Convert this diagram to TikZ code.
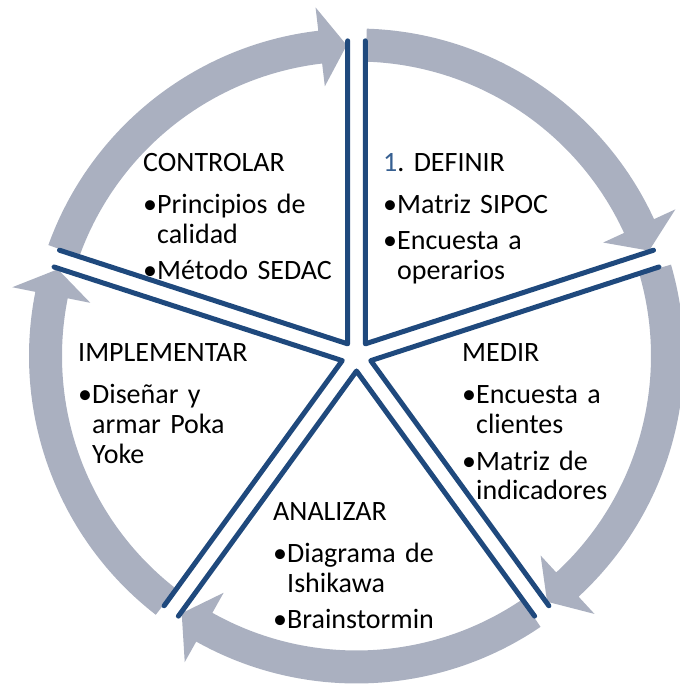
\documentclass[tikz,border=0pt]{standalone}
\usepackage{fontspec}
\setmainfont{Carlito}
\definecolor{ringgrey}{RGB}{170,176,192}
\definecolor{wedgeblue}{RGB}{31,73,125}
\definecolor{numblue}{RGB}{54,95,145}
\usetikzlibrary{calc}

\newcommand{\bul}{\makebox[14pt][l]{•}}
\newcommand{\ind}{\hspace*{14pt}}
\newcommand{\phasefont}{\fontsize{28}{30}\selectfont\frenchspacing
  \spaceskip=0.19em plus 0.05em\relax}

\begin{document}
\begin{tikzpicture}[x=1pt, y=1pt,
    phase/.style={anchor=base west, inner sep=0pt, text width=260pt, align=left,
      font=\phasefont}]
    \useasboundingbox (-356.5,-331) rectangle (322.5,356);
    % grey ring of arrows
    \foreach \s in {90,18,-54,-126,-198} {
      \fill[ringgrey] ({\s-1.8}:327.5) arc[start angle=\s-1.8, end angle=\s-65.3, radius=327.5]
        -- ({\s-65.3}:351) -- ({\s-70.2}:311) -- ({\s-65.3}:271.5) -- ({\s-65.3}:294.5)
        arc[start angle=\s-65.3, end angle=\s-1.8, radius=294.5] -- cycle;
    }
    % wedge edges
    \foreach \b in {126,54,-18,-90,-162} {
      \draw[wedgeblue, line width=5pt, line join=round, line cap=round]
        ($(\b:15)+({\b+36}:303)$) -- (\b:15) -- ($(\b:15)+({\b-36}:303)$);
    }
    \node[phase] (controlar) at (-213.5,184) {CONTROLAR\\[12pt]
      \bul Principios de\\ \ind calidad\\[6pt] \bul Método SEDAC};
    \node[phase] (definir) at (26.5,184) {\textcolor{numblue}{1}. DEFINIR\\[12pt]
      \bul Matriz SIPOC\\[6pt] \bul Encuesta a\\ \ind operarios};
    \node[phase] (medir) at (105.5,-6) {MEDIR\\[12pt]
      \bul Encuesta a\\ \ind clientes\\[6pt] \bul Matriz de\\ \ind indicadores};
    \node[phase] (implementar) at (-278.5,-6) {IMPLEMENTAR\\[12pt]
      \bul Diseñar y\\ \ind armar Poka\\ \ind Yoke};
    \node[phase] (analizar) at (-83.5,-164) {ANALIZAR\\[12pt]
      \bul Diagrama de\\ \ind Ishikawa\\[6pt] \bul Brainstormin};
\end{tikzpicture}
\end{document}
